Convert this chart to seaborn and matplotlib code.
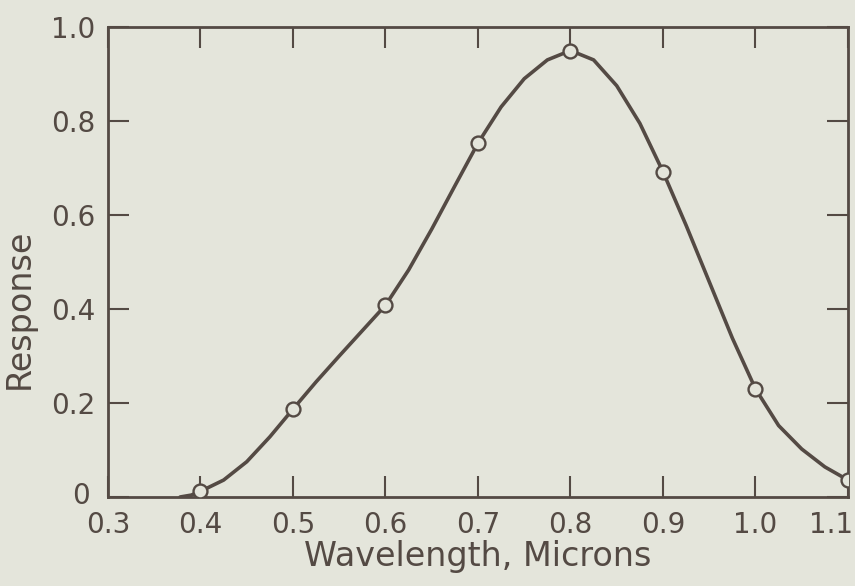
import numpy as np
import pandas as pd
import matplotlib
matplotlib.use("Agg")
import matplotlib.pyplot as plt
import matplotlib.transforms as mtransforms
import seaborn as sns

# measured points (open circles)
point_x = [0.4, 0.5, 0.6, 0.7, 0.8, 0.9, 1.0, 1.1]
point_y = [0.012, 0.187, 0.408, 0.753, 0.950, 0.692, 0.230, 0.036]

# smooth curve
curve_x = [0.378, 0.39, 0.40, 0.425, 0.45, 0.475, 0.50, 0.525, 0.55, 0.575,
           0.60, 0.625, 0.65, 0.675, 0.70, 0.725, 0.75, 0.775, 0.80, 0.825,
           0.85, 0.875, 0.90, 0.925, 0.95, 0.975, 1.00, 1.025, 1.05, 1.075, 1.10]
curve_y = [0.0, 0.004, 0.012, 0.036, 0.075, 0.128, 0.187, 0.245, 0.300, 0.354,
           0.408, 0.483, 0.570, 0.662, 0.753, 0.830, 0.890, 0.930, 0.950, 0.930,
           0.875, 0.795, 0.692, 0.578, 0.458, 0.338, 0.230, 0.152, 0.102, 0.064, 0.036]

xticks = [0.3, 0.4, 0.5, 0.6, 0.7, 0.8, 0.9, 1.0, 1.1]
xticklabels = ["0.3", "0.4", "0.5", "0.6", "0.7", "0.8", "0.9", "1.0", "1.1"]
yticks = [0, 0.2, 0.4, 0.6, 0.8, 1.0]
yticklabels = ["0", "0.2", "0.4", "0.6", "0.8", "1.0"]

bg = "#e4e5db"
ink = "#544a44"

sns.set_theme(style="ticks")
plt.rcParams["font.family"] = ["DejaVu Sans"]

curve = pd.DataFrame({"wl": curve_x, "resp": curve_y})
pts = pd.DataFrame({"wl": point_x, "resp": point_y})

fig = plt.figure(figsize=(8.55, 5.86), dpi=100, facecolor=bg)
ax = fig.add_axes([0.1263, 0.1519, 0.8655, 0.802])
ax.set_facecolor(bg)

sns.lineplot(data=curve, x="wl", y="resp", ax=ax, color=ink, lw=2.6, sort=False,
             solid_joinstyle="round", solid_capstyle="round")
sns.scatterplot(data=pts, x="wl", y="resp", ax=ax, s=100, marker="o",
                facecolor=bg, edgecolor=ink, linewidth=1.7, zorder=3)

ax.set_xlim(0.3, 1.1)
ax.set_ylim(0, 1.0)
ax.set_xticks(xticks)
ax.set_xticklabels(xticklabels)
ax.set_yticks(yticks)
ax.set_yticklabels(yticklabels)

for s in ax.spines.values():
    s.set_visible(True)
    s.set_color(ink)
    s.set_linewidth(2.0)

ax.tick_params(axis="both", direction="in", length=15, width=1.5, color=ink,
               labelcolor=ink, labelsize=20, top=True, right=True)
ax.tick_params(axis="x", pad=10)
ax.tick_params(axis="y", pad=9)

# last x label sits at the figure edge, nudge it in a little
last = ax.get_xticklabels()[-1]
last.set_transform(last.get_transform() +
                   mtransforms.ScaledTranslation(-12 / 72, 0, fig.dpi_scale_trans))
# keep the "0" clear of "0.3"
zero = ax.get_yticklabels()[0]
zero.set_transform(zero.get_transform() +
                   mtransforms.ScaledTranslation(-4 / 72, 3 / 72, fig.dpi_scale_trans))

ax.set_xlabel("Wavelength, Microns", fontsize=24, color=ink, labelpad=1)
ax.set_ylabel("Response", fontsize=24, color=ink)
ax.yaxis.set_label_coords(-0.098, 0.40)

fig.savefig("out.png", dpi=100, facecolor=bg)
